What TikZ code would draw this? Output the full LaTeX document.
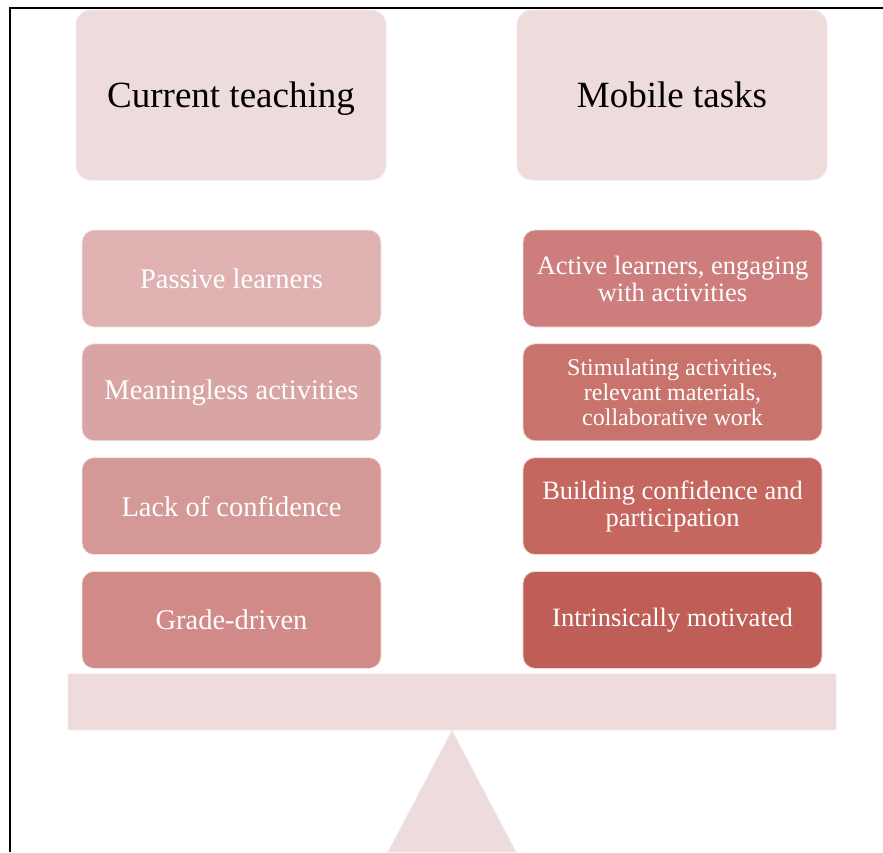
\documentclass[tikz,border=0pt]{standalone}
\usepackage{fontspec}
\setmainfont{Liberation Serif}
\usetikzlibrary{positioning}

\definecolor{paleRose}{HTML}{EEDBDC}
\definecolor{roseA}{HTML}{DFB1B1}
\definecolor{roseB}{HTML}{D9A5A4}
\definecolor{roseC}{HTML}{D49896}
\definecolor{roseD}{HTML}{D18A87}
\definecolor{redA}{HTML}{CE7D7D}
\definecolor{redB}{HTML}{C9736D}
\definecolor{redC}{HTML}{C5665F}
\definecolor{redD}{HTML}{BF5E57}

\begin{document}
\begin{tikzpicture}[
    x=1pt, y=-1pt,
    every node/.style={align=center, inner sep=2pt},
    header/.style={fill=paleRose, draw=paleRose!60!white, line width=1pt, rounded corners=15pt,
                   minimum width=310pt, minimum height=170pt, text height=25.5pt, text depth=0pt,
                   font=\fontsize{37}{40}\selectfont},
    item/.style={draw=white!75!#1, fill=#1, line width=0.8pt, rounded corners=12pt,
                 minimum width=299pt, minimum height=97pt, text=white},
    leftfont/.style={font=\fontsize{28.5}{30}\selectfont},
    rightfont/.style={font=\fontsize{26.5}{27}\selectfont},
    balance/.style={fill=paleRose, draw=paleRose!60!white, line width=0.8pt},
]
\useasboundingbox (0,0) rectangle (883,852);

% ── Frame ────────────────────────────────────────────────────────────────────
\draw[line width=2pt] (10,852) -- (10,8) -- (883,8);

% ── Headers ──────────────────────────────────────────────────────────────────
\node[header] (current) at (231,95) {Current teaching};
\node[header] (mobile)  at (672,95) {Mobile tasks};

% ── Current teaching column ──────────────────────────────────────────────────
\node[item=roseA, leftfont] (passive) at (231.5,278.5) {Passive learners};
\node[item=roseB, leftfont, below=16pt of passive]     (meaningless) {Meaningless activities};
\node[item=roseC, leftfont, below=16pt of meaningless] (lack)        {Lack of confidence};
\node[item=roseD, leftfont, below=16pt of lack]        (grade)       {Grade-driven};

% ── Mobile tasks column ──────────────────────────────────────────────────────
\node[item=redA, rightfont] (active) at (672.5,278.5) {Active learners, engaging\\with activities};
\node[item=redB, font=\fontsize{24}{25}\selectfont, below=16pt of active] (stimulating)
      {Stimulating activities,\\relevant materials,\\collaborative work};
\node[item=redC, rightfont, below=16pt of stimulating] (building)  {Building confidence and\\participation};
\node[item=redD, rightfont, below=16pt of building]    (intrinsic) {Intrinsically motivated};

% ── Balance ──────────────────────────────────────────────────────────────────
\node[balance, rounded corners=2pt, minimum width=768pt, minimum height=56pt] (beam) at (452,702) {};
\coordinate (baseL) at (388,852);
\coordinate (baseR) at (516,852);
\draw[balance] (beam.south) -- (baseR) -- (baseL) -- cycle;

\end{tikzpicture}
\end{document}
